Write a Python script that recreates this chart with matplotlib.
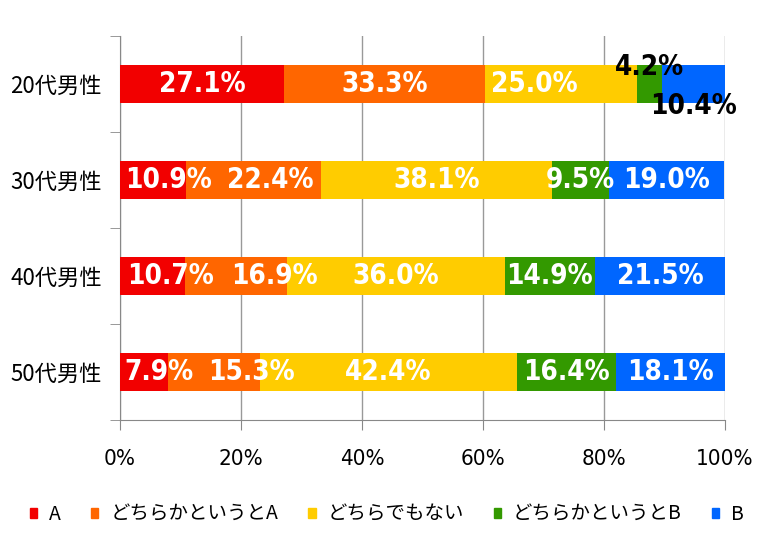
import matplotlib
matplotlib.use("Agg")
from matplotlib import pyplot as plt
from matplotlib.patches import Patch
import numpy as np

plt.rcParams['font.family'] = ['Noto Sans CJK JP', 'DejaVu Sans']

groups = ["20代男性", "30代男性", "40代男性", "50代男性"]
series_names = ["A", "どちらかというとA", "どちらでもない", "どちらかというとB", "B"]
colors = ["#F20000", "#FF6600", "#FFCC00", "#339900", "#0066FF"]

a_vals = [27.1, 10.9, 10.7, 7.9]
lean_a = [33.3, 22.4, 16.9, 15.3]
neutral = [25.0, 38.1, 36.0, 42.4]
lean_b = [4.2, 9.5, 14.9, 16.4]
b_vals = [10.4, 19.0, 21.5, 18.1]
values = [a_vals, lean_a, neutral, lean_b, b_vals]

# label nudges in points, (row, series): (dx, dy)
offsets = {(0, 2): (-19, 0), (0, 3): (0, 12), (0, 4): (0, -16),
           (1, 0): (11, 0), (1, 1): (12, 0),
           (2, 0): (13, 0), (2, 1): (28, 0),
           (3, 0): (11, 0), (3, 1): (27, 0)}
dark_labels = [(0, 3), (0, 4)]

fig = plt.figure(figsize=(7.66, 5.5), dpi=100)
ax = fig.add_axes([0.1567, 0.2364, 0.7898, 0.6981])

y = np.arange(len(groups))
left = np.zeros(len(groups))
for k, vals in enumerate(values):
    vals = np.array(vals)
    ax.barh(y, vals, left=left, height=0.4, color=colors[k], zorder=3)
    for i, v in enumerate(vals):
        dx, dy = offsets.get((i, k), (0, 0))
        col = "black" if (i, k) in dark_labels else "white"
        ax.annotate(f"{v:.1f}%", (left[i] + v / 2, y[i]), xytext=(dx, dy),
                    textcoords="offset points", ha="center", va="center",
                    color=col, fontsize=20, fontweight="bold",
                    fontstretch="condensed", family="DejaVu Sans", zorder=4)
    left += vals

ax.set_xlim(0, 100)
ax.set_ylim(len(groups) - 0.5, -0.5)
ax.set_xticks(np.arange(0, 101, 20))
ax.set_xticklabels([f"{t}%" for t in range(0, 101, 20)], fontsize=16,
                   family="DejaVu Sans", fontstretch="condensed")
ax.set_yticks(y)
ax.set_yticklabels(groups, fontsize=16)
ax.set_yticks(np.arange(-0.5, len(groups)), minor=True)
ax.tick_params(axis="y", which="major", length=0, pad=13)
ax.tick_params(axis="y", which="minor", length=7, color="#888888")
ax.tick_params(axis="x", length=7, color="#888888", pad=14)
ax.grid(axis="x", color="#999999", linewidth=1, zorder=0)
for s in ["top", "right"]:
    ax.spines[s].set_visible(False)
for s in ["left", "bottom"]:
    ax.spines[s].set_color("#888888")

handles = [Patch(color=c, label=n) for c, n in zip(colors, series_names)]
fig.legend(handles=handles, loc="center", bbox_to_anchor=(0.505, 0.065), ncol=5,
           frameon=False, fontsize=14, handlelength=0.38, handleheight=0.38,
           handletextpad=0.6, columnspacing=1.55)

fig.savefig("out.png", dpi=100)
